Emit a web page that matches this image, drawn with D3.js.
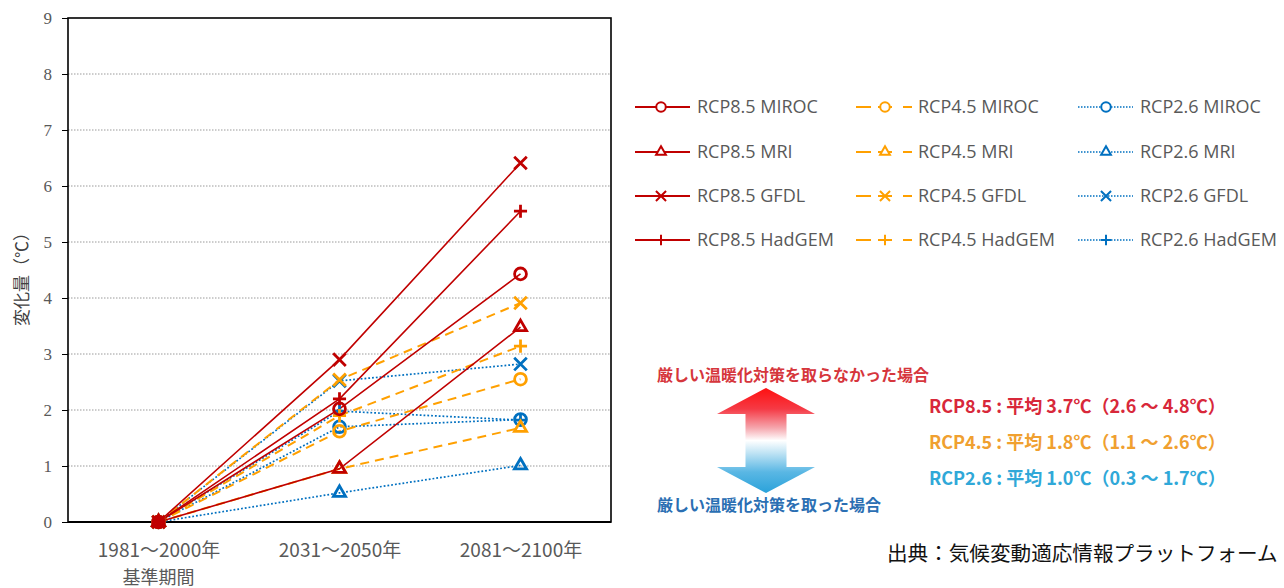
<!DOCTYPE html>
<html><head><meta charset="utf-8">
<script src="https://cdn.jsdelivr.net/npm/d3@7"></script>
<style>
html,body{margin:0;padding:0;background:#fff;overflow:hidden;}
svg{display:block;}
</style></head>
<body>
<svg id="chart" width="1284" height="588"></svg>
<script>
// ---- data ----
const categories = ["1981～2000年", "2031～2050年", "2081～2100年"];
const baseLabel = "基準期間";
const yTicks = [0,1,2,3,4,5,6,7,8,9];
const yTitle = "変化量（℃）";
const models = ["MIROC", "MRI", "GFDL", "HadGEM"];
const scenarios = ["RCP8.5", "RCP4.5", "RCP2.6"];
const rcp85 = [
  [0, 2.02, 4.43],  // MIROC
  [0, 0.95, 3.48],  // MRI
  [0, 2.90, 6.41],  // GFDL
  [0, 2.20, 5.55]   // HadGEM
];
const rcp45 = [
  [0, 1.62, 2.55],
  [0, 0.95, 1.68],
  [0, 2.54, 3.91],
  [0, 1.90, 3.14]
];
const rcp26 = [
  [0, 1.70, 1.83],
  [0, 0.52, 1.01],
  [0, 2.52, 2.82],
  [0, 1.98, 1.82]
];
const summaryLines = [
  "RCP8.5 : 平均 3.7℃（2.6 ～ 4.8℃）",
  "RCP4.5 : 平均 1.8℃（1.1 ～ 2.6℃）",
  "RCP2.6 : 平均 1.0℃（0.3 ～ 1.7℃）"
];
const arrowTop = "厳しい温暖化対策を取らなかった場合";
const arrowBottom = "厳しい温暖化対策を取った場合";
const sourceText = "出典：気候変動適応情報プラットフォーム";

// ---- styles ----
const scenStyle = {
  "RCP8.5": {color:"#c00000", width:1.6, dash:null},
  "RCP4.5": {color:"#ffa000", width:2, dash:"9,6"},
  "RCP2.6": {color:"#0070c0", width:1.7, dash:"1.8,2"}
};
const symbolFor = {
  MIROC: {type:d3.symbolCircle, size:110},
  MRI: {type:d3.symbolTriangle2, size:105},
  GFDL: {type:d3.symbolTimes, size:105},
  HadGEM: {type:d3.symbolPlus, size:58}
};
const valueSets = {"RCP8.5": rcp85, "RCP4.5": rcp45, "RCP2.6": rcp26};

const series = [];
scenarios.forEach(s => models.forEach((m,i) => series.push({scen:s, model:m, values:valueSets[s][i]})));

const svg = d3.select("#chart");
const L = 68, R = 611, T = 18, B = 522;
const x = d3.scalePoint().domain(categories).range([L, R]).padding(0.5);
const y = d3.scaleLinear().domain([0, 9]).range([B, T]);

// gridlines
svg.append("g").selectAll("line").data(yTicks.filter(t => t > 0 && t < 9)).join("line")
  .attr("x1", L).attr("x2", R).attr("y1", d => y(d)).attr("y2", d => y(d))
  .attr("stroke", "#9a9a9a").attr("stroke-width", 1).attr("stroke-dasharray", "1.5,1.5");

// y axis
const yAxis = d3.axisLeft(y).tickValues(yTicks).tickSize(6).tickPadding(10).tickFormat(d3.format("d"));
const gy = svg.append("g").attr("transform", `translate(${L},0)`).call(yAxis);
gy.select(".domain").remove();
gy.selectAll(".tick line").attr("stroke", "#000").attr("stroke-width", 1);
gy.selectAll(".tick text").attr("font-family", "Liberation Serif, DejaVu Serif, serif")
  .attr("font-size", 17).attr("fill", "#595959");

// frame
svg.append("rect").attr("x", L).attr("y", T).attr("width", R - L).attr("height", B - T)
  .attr("fill", "none").attr("stroke", "#000").attr("stroke-width", 1.6);
svg.append("line").attr("x1", L).attr("x2", R).attr("y1", B).attr("y2", B)
  .attr("stroke", "#000").attr("stroke-width", 2.2);

// x axis labels
const xAxis = d3.axisBottom(x).tickSize(0).tickPadding(22);
const gx = svg.append("g").attr("transform", `translate(0,${B})`).call(xAxis);
gx.select(".domain").remove();
gx.selectAll(".tick text").attr("font-family", "Noto Sans CJK JP, sans-serif")
  .attr("font-size", 19).attr("fill", "#595959");
svg.append("text").attr("x", x(categories[0])).attr("y", 584).attr("text-anchor", "middle")
  .attr("font-family", "Noto Sans CJK JP, sans-serif").attr("font-size", 18).attr("fill", "#595959")
  .text(baseLabel);

// y title
svg.append("text").attr("transform", "translate(28,275) rotate(-90)").attr("text-anchor", "middle")
  .attr("font-family", "Noto Sans CJK JP, sans-serif").attr("font-size", 17).attr("fill", "#404040")
  .text(yTitle);

// lines & markers (draw order: RCP2.6, RCP4.5, RCP8.5)
const drawOrder = ["RCP2.6", "RCP4.5", "RCP8.5"];
const line = d3.line().x((d,i) => x(categories[i])).y(d => y(d));
const plot = svg.append("g");
drawOrder.forEach(s => {
  const st = scenStyle[s];
  series.filter(d => d.scen === s).forEach(d => {
    plot.append("path").attr("d", line(d.values)).attr("fill", "none")
      .attr("stroke", st.color).attr("stroke-width", st.width)
      .attr("stroke-dasharray", st.dash);
  });
});
drawOrder.forEach(s => {
  const st = scenStyle[s];
  series.filter(d => d.scen === s).forEach(d => {
    const sym = symbolFor[d.model];
    plot.selectAll(null).data(d.values).join("path")
      .attr("transform", (v,i) => `translate(${x(categories[i])},${y(v)})`)
      .attr("d", d3.symbol().type(sym.type).size(sym.size))
      .attr("fill", "none").attr("stroke", st.color).attr("stroke-width", 2.8);
  });
});

// legend
const legCols = {"RCP8.5": 635, "RCP4.5": 856, "RCP2.6": 1078};
const legRows = [107, 152, 196, 240];
const leg = svg.append("g");
scenarios.forEach(s => {
  const st = scenStyle[s];
  const x0 = legCols[s];
  models.forEach((m, i) => {
    const yy = legRows[i];
    const g = leg.append("g");
    let mx;
    if (s === "RCP8.5") {
      g.append("line").attr("x1", x0).attr("x2", x0 + 55).attr("y1", yy).attr("y2", yy)
        .attr("stroke", st.color).attr("stroke-width", 2);
      mx = x0 + 26;
    } else if (s === "RCP4.5") {
      g.append("line").attr("x1", x0).attr("x2", x0 + 15).attr("y1", yy).attr("y2", yy)
        .attr("stroke", st.color).attr("stroke-width", 2);
      g.append("line").attr("x1", x0 + 22).attr("x2", x0 + 36).attr("y1", yy).attr("y2", yy)
        .attr("stroke", st.color).attr("stroke-width", 2);
      g.append("line").attr("x1", x0 + 47).attr("x2", x0 + 56).attr("y1", yy).attr("y2", yy)
        .attr("stroke", st.color).attr("stroke-width", 2);
      mx = x0 + 29;
    } else {
      g.append("line").attr("x1", x0).attr("x2", x0 + 55).attr("y1", yy).attr("y2", yy)
        .attr("stroke", st.color).attr("stroke-width", 1.5).attr("stroke-dasharray", "1.5,1.5");
      mx = x0 + 28;
    }
    const sym = symbolFor[m];
    g.append("path").attr("transform", `translate(${mx},${yy})`)
      .attr("d", d3.symbol().type(sym.type).size(sym.size * 0.65))
      .attr("fill", "#fff").attr("stroke", st.color).attr("stroke-width", 2);
    g.append("text").attr("x", x0 + 62).attr("y", yy).attr("dy", "0.35em")
      .attr("font-family", "Open Sans, sans-serif").attr("font-size", 18).attr("fill", "#595959")
      .text(`${s} ${m}`);
  });
});

// annotation: arrow
const defs = svg.append("defs");
const grad = defs.append("linearGradient").attr("id", "arrowGrad")
  .attr("x1", 0).attr("x2", 0).attr("y1", 0).attr("y2", 1);
[[0, "#ff1010"], [0.2, "#f53a45"], [0.38, "#f5a6ad"], [0.5, "#ffffff"], [0.62, "#bfe3f4"], [0.8, "#5ab7e4"], [1, "#2aa2da"]]
  .forEach(([o, c]) => grad.append("stop").attr("offset", o).attr("stop-color", c));
const ax = 766, aTop = 388, aHB1 = 414, aHB2 = 467, aBot = 493, hw = 49, sw = 20.5;
svg.append("path").attr("fill", "url(#arrowGrad)")
  .attr("d", `M${ax},${aTop} L${ax+hw},${aHB1} L${ax+sw},${aHB1} L${ax+sw},${aHB2} L${ax+hw},${aHB2} L${ax},${aBot} L${ax-hw},${aHB2} L${ax-sw},${aHB2} L${ax-sw},${aHB1} L${ax-hw},${aHB1} Z`);
svg.append("text").attr("x", 657).attr("y", 381).attr("font-family", "Noto Sans CJK JP, sans-serif")
  .attr("font-weight", 700).attr("font-size", 16).attr("fill", "#d6363c").text(arrowTop);
svg.append("text").attr("x", 657).attr("y", 511).attr("font-family", "Noto Sans CJK JP, sans-serif")
  .attr("font-weight", 700).attr("font-size", 16).attr("fill", "#2b6fb3").text(arrowBottom);
const sumColors = ["#d8283a", "#f0a030", "#30a8d8"];
const sumY = [407, 443, 479];
svg.append("g").selectAll("text").data(summaryLines).join("text")
  .attr("x", 929).attr("y", (d,i) => sumY[i]).attr("dy", "0.35em")
  .attr("font-family", "Noto Sans CJK JP, sans-serif").attr("font-weight", 700)
  .attr("font-size", 18).attr("fill", (d,i) => sumColors[i]).text(d => d);

// source
svg.append("text").attr("x", 887).attr("y", 561).attr("font-family", "Noto Sans CJK JP, sans-serif")
  .attr("font-size", 20.6).attr("fill", "#111").text(sourceText);
</script>
</body></html>
